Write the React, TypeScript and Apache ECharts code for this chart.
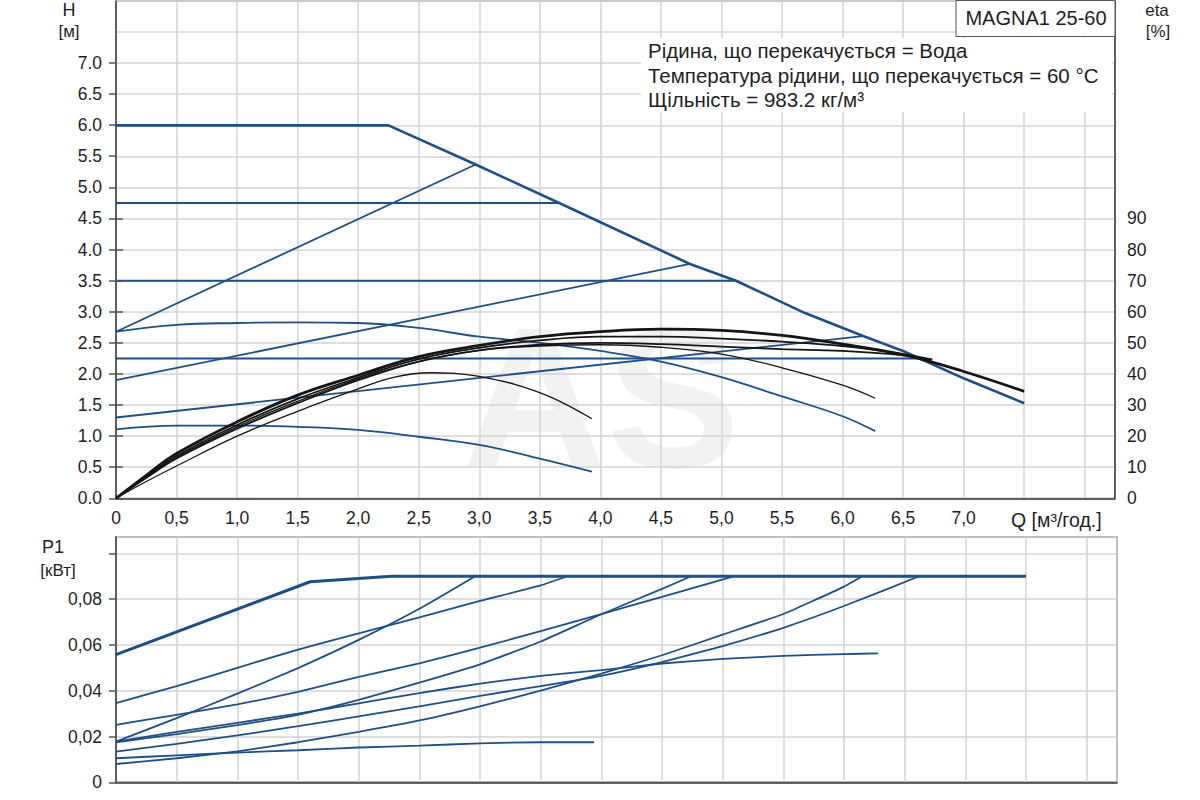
import React, { useEffect, useRef } from "react";
import * as echarts from "echarts";

// ---- tick labels ----
const Q_LABELS = ["0", "0,5", "1,0", "1,5", "2,0", "2,5", "3,0", "3,5", "4,0", "4,5", "5,0", "5,5", "6,0", "6,5", "7,0"];
const H_LABELS = ["0.0", "0.5", "1.0", "1.5", "2.0", "2.5", "3.0", "3.5", "4.0", "4.5", "5.0", "5.5", "6.0", "6.5", "7.0"];
const ETA_LABELS = ["0", "10", "20", "30", "40", "50", "60", "70", "80", "90"];
const P1_LABELS = ["0", "0,02", "0,04", "0,06", "0,08", ""];

// ---- H [m] curves ----
const maxQ = [0, 2.25, 2.97, 3.66, 4.74, 5.12, 5.69, 6.17, 6.5, 7.0, 7.5];
const maxH = [6.0, 6.0, 5.37, 4.75, 3.77, 3.5, 2.98, 2.61, 2.37, 1.93, 1.53];
const cp475Q = [0, 3.66];
const cp475H = [4.75, 4.75];
const cp35Q = [0, 5.12];
const cp35H = [3.5, 3.5];
const cp225Q = [0, 6.64];
const cp225H = [2.25, 2.25];
const ppHighQ = [0, 2.97];
const ppHighH = [2.68, 5.37];
const ppMidQ = [0, 4.74];
const ppMidH = [1.9, 3.77];
const ppLowQ = [0, 6.17];
const ppLowH = [1.3, 2.61];
const sp2Q = [0, 0.5, 1.0, 1.5, 2.0, 2.5, 3.0, 3.5, 4.0, 4.5, 5.0, 5.5, 6.0, 6.27];
const sp2H = [2.68, 2.79, 2.82, 2.83, 2.82, 2.74, 2.6, 2.5, 2.37, 2.2, 1.95, 1.64, 1.32, 1.08];
const sp1Q = [0, 0.5, 1.0, 1.5, 2.0, 2.5, 3.0, 3.5, 3.93];
const sp1H = [1.11, 1.17, 1.17, 1.15, 1.1, 0.99, 0.86, 0.64, 0.43];

// ---- eta [%] curves ----
const etaMaxQ = [0, 0.25, 0.5, 1.0, 1.5, 2.0, 2.5, 3.0, 3.5, 4.0, 4.5, 5.0, 5.5, 6.0, 6.5, 7.0, 7.5];
const etaMax = [0, 7.4, 14.4, 24.6, 33.2, 39.6, 45.6, 49.2, 52, 53.6, 54.4, 54, 52.4, 49.6, 46.2, 40.8, 34.4];
const etaMidQ = [0, 0.25, 0.5, 1.0, 1.5, 2.0, 2.5, 3.0, 3.5, 4.0, 4.5, 5.0, 5.5, 6.0, 6.5, 6.74];
const etaMid = [0, 6.8, 13.6, 23.6, 32, 38.8, 44.8, 48.4, 50.8, 52, 52, 51.4, 50.4, 49, 46.4, 44.6];
const etaLowQ = [0, 0.25, 0.5, 1.0, 1.5, 2.0, 2.5, 3.0, 3.5, 4.0, 4.5, 5.0, 5.5, 6.0, 6.5, 6.74];
const etaLow = [0, 6.6, 12.8, 22.4, 30.6, 38, 44, 47.6, 49.4, 50, 49.6, 48.8, 48, 47.4, 46, 44.6];
const etaSp2Q = [0, 0.25, 0.5, 1.0, 1.5, 2.0, 2.5, 3.0, 3.5, 4.0, 4.5, 5.0, 5.5, 6.0, 6.27];
const etaSp2 = [0, 6.8, 13.2, 23, 31.2, 38.4, 44, 47.6, 49, 49.4, 48.6, 46.4, 42, 36.4, 32.2];
const etaSp1Q = [0, 0.25, 0.5, 1.0, 1.5, 2.0, 2.3, 2.6, 2.8, 3.0, 3.3, 3.6, 3.93];
const etaSp1 = [0, 5.4, 10.4, 20, 28, 35.2, 39, 40.4, 40.2, 39.2, 36.6, 32.4, 25.6];

// ---- P1 [kW] curves ----
const p1MaxQ = [0, 1.6, 2.27, 7.5];
const p1Max = [0.0558, 0.0876, 0.09, 0.09];
const p1PPHighQ = [0, 0.5, 1.0, 1.5, 2.0, 2.5, 2.96];
const p1PPHigh = [0.0178, 0.028, 0.0387, 0.0499, 0.0622, 0.0758, 0.09];
const p1CP475Q = [0, 0.5, 1.0, 1.5, 2.0, 2.5, 3.0, 3.5, 3.72];
const p1CP475 = [0.0346, 0.042, 0.05, 0.058, 0.065, 0.072, 0.0792, 0.086, 0.09];
const p1CP35Q = [0, 0.5, 1.0, 1.5, 2.0, 2.5, 3.0, 3.5, 4.0, 4.5, 5.09];
const p1CP35 = [0.0251, 0.0295, 0.034, 0.0395, 0.046, 0.052, 0.0588, 0.066, 0.0735, 0.081, 0.09];
const p1PPMidQ = [0, 0.5, 1.0, 1.5, 2.0, 2.5, 3.0, 3.5, 4.0, 4.5, 4.74];
const p1PPMid = [0.0175, 0.021, 0.025, 0.0295, 0.036, 0.0435, 0.0515, 0.0615, 0.0734, 0.0845, 0.09];
const p1Sp2Q = [0, 0.5, 1.0, 1.5, 2.0, 2.5, 3.0, 3.5, 4.0, 4.5, 5.0, 5.5, 6.0, 6.28];
const p1Sp2 = [0.0178, 0.022, 0.026, 0.03, 0.0345, 0.039, 0.0431, 0.0465, 0.049, 0.0519, 0.0539, 0.0552, 0.056, 0.0563];
const p1CP225Q = [0, 0.5, 1.0, 1.5, 2.0, 2.5, 3.0, 3.5, 4.0, 4.5, 5.0, 5.5, 6.0, 6.62];
const p1CP225 = [0.0134, 0.0168, 0.0205, 0.0245, 0.0288, 0.0332, 0.0378, 0.042, 0.0465, 0.0525, 0.0595, 0.0675, 0.077, 0.09];
const p1PPLowQ = [0, 0.5, 1.0, 1.5, 2.0, 2.5, 3.0, 3.5, 4.0, 4.5, 5.0, 5.5, 6.0, 6.15];
const p1PPLow = [0.008, 0.0105, 0.0135, 0.0175, 0.022, 0.027, 0.0332, 0.04, 0.0475, 0.0555, 0.0645, 0.0735, 0.0855, 0.09];
const p1Sp1Q = [0, 0.5, 1.0, 1.5, 2.0, 2.5, 3.0, 3.5, 3.94];
const p1Sp1 = [0.0105, 0.0118, 0.013, 0.014, 0.0152, 0.016, 0.017, 0.0175, 0.0175];

const INFO_LINES = [
  "Рідина, що перекачується = Вода",
  "Температура рідини, що перекачується = 60 °C",
  "Щільність = 983.2 кг/м³",
];

const BLUE = "#1d4f86";
const BLACK = "#151515";
const FONT = "'Liberation Sans', Arial, sans-serif";
const TXT = "#1e1e1e";

const pts = (qs: number[], vs: number[]) => qs.map((q, i) => [q, vs[i]]);

function line(name: string, qs: number[], vs: number[], xi: number, yi: number, color: string, width: number, smooth: number | boolean) {
  return {
    type: "line",
    name,
    xAxisIndex: xi,
    yAxisIndex: yi,
    data: pts(qs, vs),
    showSymbol: false,
    symbol: "none",
    smooth,
    lineStyle: { color, width },
    silent: true,
    z: color === BLACK ? 4 : 3,
  };
}

export default function App() {
  const ref = useRef<HTMLDivElement>(null);
  useEffect(() => {
    if (!ref.current) return;
    const chart = echarts.init(ref.current, undefined, { renderer: "svg" });
    const split = { show: true, lineStyle: { color: "#d3d3d3", width: 1.5 } };
    const axLine = { show: true, lineStyle: { color: "#3a3a3a", width: 1.5 } };
    const lab = { color: TXT, fontSize: 17.5, fontFamily: FONT };
    const unit = (text: string, x: number, y: number, size: number) => ({
      type: "text", x, y,
      style: { text, fill: TXT, font: `${size}px ${FONT}`, textAlign: "center", textVerticalAlign: "middle" },
    });
    const option: any = {
      animation: false,
      backgroundColor: "#fff",
      grid: [
        { left: 116, right: 85, top: 1, bottom: 301.7, show: true, borderColor: "#666", borderWidth: 1 },
        { left: 116, right: 83, top: 537, bottom: 17.7, show: true, borderColor: "#666", borderWidth: 1.5 },
        { left: 116, right: 85, top: 62.9, bottom: 301.7 },
        { left: 116, right: 85, top: 218.4, bottom: 301.7 },
        { left: 116, right: 83, top: 553.3, bottom: 17.7 },
      ],
      xAxis: [
        {
          type: "value", gridIndex: 0, min: 0, max: 8.25, interval: 0.5,
          axisLine: axLine, axisTick: { show: false }, splitLine: split,
          axisLabel: { ...lab, margin: 11, formatter: (v: number) => Q_LABELS[Math.round(v / 0.5)] ?? "" },
        },
        {
          type: "value", gridIndex: 1, min: 0, max: 8.25, interval: 0.5,
          axisLine: axLine, axisTick: { show: false }, splitLine: split, axisLabel: { show: false },
        },
        { type: "value", gridIndex: 2, show: false, min: 0, max: 1 },
        { type: "value", gridIndex: 3, show: false, min: 0, max: 1 },
        { type: "value", gridIndex: 4, show: false, min: 0, max: 1 },
      ],
      yAxis: [
        {
          type: "value", gridIndex: 0, min: 0, max: 8, interval: 0.5,
          axisLine: axLine, axisTick: { show: false }, axisLabel: { show: false }, splitLine: split,
        },
        {
          type: "value", gridIndex: 0, position: "right", min: 0, max: 160, interval: 10,
          axisLine: axLine, axisTick: { show: false }, axisLabel: { show: false }, splitLine: { show: false },
        },
        {
          type: "value", gridIndex: 1, min: 0, max: 0.10715, interval: 0.02,
          axisLine: axLine, axisTick: { show: false }, axisLabel: { show: false }, splitLine: split,
        },
        {
          type: "value", gridIndex: 2, min: 0, max: 7, interval: 0.5,
          axisLine: { show: false }, splitLine: { show: false },
          axisTick: { show: true, length: 7, lineStyle: { color: "#555", width: 1.5 } },
          axisLabel: { ...lab, margin: 14, formatter: (v: number) => H_LABELS[Math.round(v / 0.5)] ?? "" },
        },
        {
          type: "value", gridIndex: 3, position: "right", min: 0, max: 90, interval: 10,
          axisLine: { show: false }, splitLine: { show: false },
          axisTick: { show: true, length: 7, lineStyle: { color: "#555", width: 1.5 } },
          axisLabel: { ...lab, margin: 12, formatter: (v: number) => ETA_LABELS[Math.round(v / 10)] ?? "" },
        },
        {
          type: "value", gridIndex: 4, min: 0, max: 0.1, interval: 0.02,
          axisLine: { show: false }, splitLine: { show: false },
          axisTick: { show: true, length: 7, lineStyle: { color: "#555", width: 1.5 } },
          axisLabel: { ...lab, margin: 14, formatter: (v: number) => P1_LABELS[Math.round(v / 0.02)] ?? "" },
        },
      ],
      graphic: [
        {
          type: "text", z: -10, x: 462, y: 397, silent: true,
          style: {
            text: "AS", fill: "#f2f2f2", font: `bold 200px ${FONT}`,
            textVerticalAlign: "middle", lineHeight: 150,
          },
        },
        { type: "rect", z: 10, shape: { x: 641, y: 38, width: 471, height: 74 }, style: { fill: "#fff" } },
        ...INFO_LINES.map((t, i) => ({
          type: "text", z: 11, x: 648, y: [50, 75, 99][i],
          style: { text: t, fill: TXT, font: `20.5px ${FONT}`, textVerticalAlign: "middle" },
        })),
        { type: "rect", z: 10, shape: { x: 956, y: 0.5, width: 159, height: 36 }, style: { fill: "#fff", stroke: "#555", lineWidth: 1 } },
        {
          type: "text", z: 11, x: 1036, y: 18,
          style: { text: "MAGNA1 25-60", fill: TXT, font: `20px ${FONT}`, textAlign: "center", textVerticalAlign: "middle" },
        },
        unit("H", 69, 10, 18),
        unit("[м]", 69, 31, 17),
        unit("eta", 1157, 10, 17),
        unit("[%]", 1158, 31, 17),
        unit("P1", 53, 547, 18),
        unit("[кВт]", 58, 570, 17),
        { type: "text", x: 1011, y: 520, style: { text: "Q [м³/год.]", fill: TXT, font: `19.5px ${FONT}`, textVerticalAlign: "middle" } },
      ],
      series: [
        line("cp475", cp475Q, cp475H, 0, 0, BLUE, 2, false),
        line("cp35", cp35Q, cp35H, 0, 0, BLUE, 2, false),
        line("cp225", cp225Q, cp225H, 0, 0, BLUE, 2, false),
        line("ppHigh", ppHighQ, ppHighH, 0, 0, BLUE, 1.8, false),
        line("ppMid", ppMidQ, ppMidH, 0, 0, BLUE, 1.8, false),
        line("ppLow", ppLowQ, ppLowH, 0, 0, BLUE, 1.8, false),
        line("speed2", sp2Q, sp2H, 0, 0, BLUE, 1.8, 0.4),
        line("speed1", sp1Q, sp1H, 0, 0, BLUE, 1.8, 0.4),
        line("max", maxQ, maxH, 0, 0, BLUE, 2.6, false),
        line("etaSp1", etaSp1Q, etaSp1, 0, 1, BLACK, 1.3, 0.4),
        line("etaSp2", etaSp2Q, etaSp2, 0, 1, BLACK, 1.3, 0.4),
        line("etaLow", etaLowQ, etaLow, 0, 1, BLACK, 1.8, 0.4),
        line("etaMid", etaMidQ, etaMid, 0, 1, BLACK, 1.8, 0.4),
        line("etaMax", etaMaxQ, etaMax, 0, 1, BLACK, 2.8, 0.4),
        line("p1PPHigh", p1PPHighQ, p1PPHigh, 1, 2, BLUE, 1.8, 0.15),
        line("p1CP475", p1CP475Q, p1CP475, 1, 2, BLUE, 1.8, 0.15),
        line("p1CP35", p1CP35Q, p1CP35, 1, 2, BLUE, 1.8, 0.15),
        line("p1PPMid", p1PPMidQ, p1PPMid, 1, 2, BLUE, 1.8, 0.15),
        line("p1Sp2", p1Sp2Q, p1Sp2, 1, 2, BLUE, 1.8, 0.15),
        line("p1CP225", p1CP225Q, p1CP225, 1, 2, BLUE, 1.8, 0.15),
        line("p1PPLow", p1PPLowQ, p1PPLow, 1, 2, BLUE, 1.8, 0.15),
        line("p1Sp1", p1Sp1Q, p1Sp1, 1, 2, BLUE, 1.8, 0.15),
        line("p1Max", p1MaxQ, p1Max, 1, 2, BLUE, 3, false),
      ],
    };
    chart.setOption(option);
    return () => chart.dispose();
  }, []);
  return (
    <div
      ref={ref}
      style={{ position: "fixed", left: 0, top: 0, width: 1200, height: 800, background: "#fff" }}
    />
  );
}
